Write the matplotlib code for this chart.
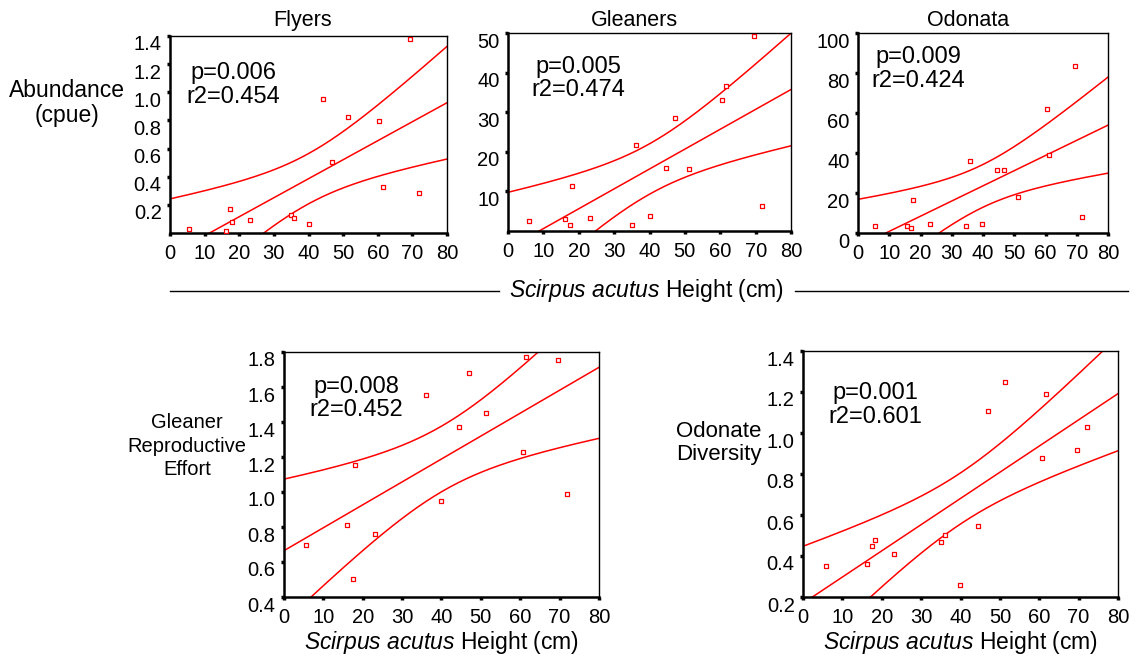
import matplotlib
matplotlib.use("Agg")
import matplotlib.pyplot as plt
from matplotlib.lines import Line2D
from matplotlib.transforms import ScaledTranslation
import numpy as np

plt.rcParams['font.family'] = ['Liberation Sans', 'DejaVu Sans']
plt.rcParams['mathtext.fontset'] = 'custom'
plt.rcParams['mathtext.rm'] = 'Liberation Sans'
plt.rcParams['mathtext.it'] = 'Liberation Sans:italic'

W, H = 1139, 658

# scirpus height (cm) and response for each panel
flyers_x = [5.6, 16.2, 17.3, 18.0, 23.1, 34.9, 35.9, 40.0, 44.3, 46.9, 51.3, 60.4, 61.5, 69.4, 71.9]
flyers_y = [0.026, 0.014, 0.171, 0.079, 0.095, 0.126, 0.105, 0.062, 0.952, 0.507, 0.821, 0.798, 0.324, 1.376, 0.286]

gleaners_x = [5.8, 16.1, 17.6, 18.2, 23.3, 35.0, 36.1, 40.1, 44.8, 47.1, 51.3, 60.5, 61.7, 69.6, 71.9]
gleaners_y = [2.4, 3.1, 1.5, 11.3, 3.3, 1.5, 21.8, 3.9, 16.0, 28.6, 15.6, 33.2, 36.5, 49.3, 6.4]

odonata_x = [5.3, 15.8, 17.1, 17.7, 22.9, 34.6, 35.7, 39.8, 44.4, 46.6, 51.1, 60.4, 61.2, 69.3, 71.6]
odonata_y = [3.5, 3.7, 2.7, 16.5, 4.7, 3.5, 36.0, 4.7, 31.7, 31.3, 17.8, 62.2, 38.8, 83.5, 8.2]

effort_x = [5.6, 16.1, 17.4, 18.1, 23.1, 36.0, 39.9, 44.5, 46.9, 51.3, 60.6, 61.5, 69.6, 71.9]
effort_y = [0.696, 0.813, 0.503, 1.153, 0.759, 1.556, 0.948, 1.374, 1.682, 1.449, 1.227, 1.772, 1.752, 0.990]

diversity_x = [5.8, 16.3, 17.6, 18.2, 23.2, 35.1, 36.1, 39.9, 44.5, 47.0, 51.4, 60.6, 61.6, 69.5, 72.0]
diversity_y = [0.350, 0.360, 0.450, 0.478, 0.409, 0.469, 0.502, 0.260, 0.548, 1.109, 1.248, 0.879, 1.188, 0.917, 1.029]

stats = [("p=0.006", "r2=0.454"), ("p=0.005", "r2=0.474"), ("p=0.009", "r2=0.424"),
         ("p=0.008", "r2=0.452"), ("p=0.001", "r2=0.601")]

# two-sided 95% t values by residual df
T95 = {12: 2.179, 13: 2.160}

RED = "#ff0000"


def make_axes(l, r, t, b):
    return plt.gcf().add_axes([l / W, 1 - b / H, (r - l) / W, (b - t) / H])


def panel(ax, x, y, ylim, yticks, ylabels, note, note_pos):
    x = np.array(x)
    y = np.array(y)
    n = len(x)
    slope, icpt = np.polyfit(x, y, 1)
    resid = y - (slope * x + icpt)
    s = np.sqrt(np.sum(resid ** 2) / (n - 2))
    sxx = np.sum((x - x.mean()) ** 2)
    xs = np.linspace(0, 80, 200)
    fit = slope * xs + icpt
    half = T95[n - 2] * s * np.sqrt(1 / n + (xs - x.mean()) ** 2 / sxx)
    for line in (fit, fit + half, fit - half):
        ax.plot(xs, line, color=RED, lw=1.1)
    ax.scatter(x, y, marker="s", s=12, facecolors="white", edgecolors=RED, linewidths=0.9, zorder=3)
    ax.set_xlim(0, 80)
    ax.set_ylim(*ylim)
    ax.set_xticks(range(0, 81, 10))
    ax.set_yticks(yticks)
    ax.set_yticklabels(ylabels)
    ax.tick_params(labelsize=14.5, length=2, width=2.5)
    ax.tick_params(axis="x", pad=6)
    ax.tick_params(axis="y", pad=4)
    # y tick labels sit a little below their ticks
    shift = ScaledTranslation(0, -0.07, plt.gcf().dpi_scale_trans)
    for tick in ax.yaxis.get_major_ticks():
        tick.label1.set_transform(tick.label1.get_transform() + shift)
    for side in ("left", "bottom"):
        ax.spines[side].set_linewidth(1.8)
    for side in ("top", "right"):
        ax.spines[side].set_linewidth(1.0)
    ax.text(note_pos[0], note_pos[1], note[0] + "\n" + note[1], transform=ax.transAxes,
            ha="center", va="center", fontsize=17, linespacing=1.1)


fig = plt.figure(figsize=(W / 100, H / 100), dpi=100)

ax1 = make_axes(170, 447, 36, 233)
panel(ax1, flyers_x, flyers_y, (0, 1.4), [0.2, 0.4, 0.6, 0.8, 1.0, 1.2, 1.4],
      ["0.2", "0.4", "0.6", "0.8", "1.0", "1.2", "1.4"], stats[0], (0.23, 0.75))

ax2 = make_axes(508, 791, 33, 231)
panel(ax2, gleaners_x, gleaners_y, (0, 50), [10, 20, 30, 40, 50],
      ["10", "20", "30", "40", "50"], stats[1], (0.25, 0.77))

ax3 = make_axes(858, 1108, 33, 233)
panel(ax3, odonata_x, odonata_y, (0, 100), [0, 20, 40, 60, 80, 100],
      ["0", "20", "40", "60", "80", "100"], stats[2], (0.24, 0.82))

ax4 = make_axes(284, 599, 352, 597)
panel(ax4, effort_x, effort_y, (0.4, 1.8), [0.4, 0.6, 0.8, 1.0, 1.2, 1.4, 1.6, 1.8],
      ["0.4", "0.6", "0.8", "1.0", "1.2", "1.4", "1.6", "1.8"], stats[3], (0.23, 0.81))

ax5 = make_axes(803, 1118, 351, 597)
panel(ax5, diversity_x, diversity_y, (0.2, 1.4), [0.2, 0.4, 0.6, 0.8, 1.0, 1.2, 1.4],
      ["0.2", "0.4", "0.6", "0.8", "1.0", "1.2", "1.4"], stats[4], (0.23, 0.78))

xlab = r"$\mathit{Scirpus\ acutus}$ Height (cm)"
for ax in (ax4, ax5):
    ax.set_xlabel(xlab, fontsize=16.5, labelpad=1)

# panel titles and row labels
for label, xc in (("Flyers", 303), ("Gleaners", 634), ("Odonata", 968)):
    fig.text(xc / W, 1 - 26 / H, label, ha="center", va="baseline", fontsize=15.5)

fig.text(67 / W, 1 - 103 / H, "Abundance\n(cpue)", ha="center", va="center", fontsize=16.5, linespacing=1.15)
fig.text(187 / W, 1 - 446 / H, "Gleaner\nReproductive\nEffort", ha="center", va="center", fontsize=14.5, linespacing=1.3)
fig.text(719 / W, 1 - 443 / H, "Odonate\nDiversity", ha="center", va="center", fontsize=16, linespacing=1.15)

# shared x label for the top row with rules either side
fig.text(647 / W, 1 - 291 / H, xlab, ha="center", va="center", fontsize=16.5)
fig.add_artist(Line2D([170 / W, 499 / W], [1 - 291 / H] * 2, color="black", lw=1))
fig.add_artist(Line2D([795 / W, 1128 / W], [1 - 291 / H] * 2, color="black", lw=1))

fig.savefig("out.png", dpi=100)
